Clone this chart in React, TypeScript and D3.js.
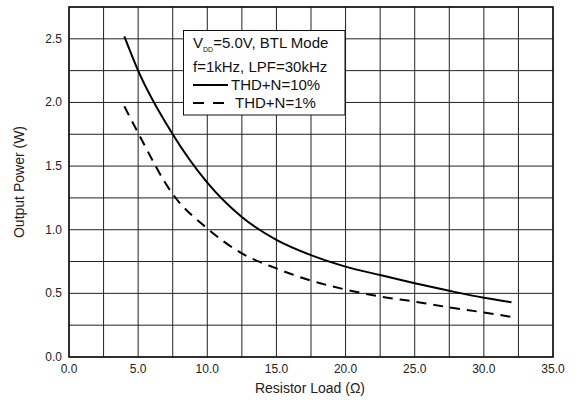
import React from "react";
import * as d3 from "d3";

const loads = [4, 5, 7.5, 10, 12.5, 15, 17.5, 20, 22.5, 25, 27.5, 30, 32];
const thd10 = [2.52, 2.25, 1.75, 1.37, 1.1, 0.92, 0.8, 0.71, 0.644, 0.58, 0.52, 0.465, 0.43];
const thd1 = [1.97, 1.76, 1.28, 1.01, 0.814, 0.696, 0.6, 0.53, 0.475, 0.435, 0.39, 0.35, 0.315];
const xTicks = [0, 5, 10, 15, 20, 25, 30, 35];
const yTicks = [0, 0.5, 1.0, 1.5, 2.0, 2.5];
const xGrid = d3.range(0, 35.01, 2.5);
const yGrid = d3.range(0, 2.751, 0.25);

const W = 578, H = 400;
const M = { left: 69, top: 7, right: 553, bottom: 357 };
const FONT = "Liberation Sans, Arial, sans-serif";

export default function App() {
  const x = d3.scaleLinear().domain([0, 35]).range([M.left, M.right]);
  const y = d3.scaleLinear().domain([0, 2.75]).range([M.bottom, M.top]);
  const line = d3
    .line<number>()
    .x((_, i) => x(loads[i]))
    .y((d) => y(d))
    .curve(d3.curveMonotoneX);

  return (
    <svg width={W} height={H} style={{ position: "absolute", left: 0, top: 0 }}>
      <rect x={0} y={0} width={W} height={H} fill="#fff" />
      {xGrid.map((v) => (
        <line key={"xg" + v} x1={x(v)} x2={x(v)} y1={M.top} y2={M.bottom} stroke="#222" strokeWidth={1} />
      ))}
      {yGrid.map((v) => (
        <line key={"yg" + v} x1={M.left} x2={M.right} y1={y(v)} y2={y(v)} stroke="#222" strokeWidth={1} />
      ))}
      <rect x={M.left} y={M.top} width={M.right - M.left} height={M.bottom - M.top} fill="none" stroke="#111" strokeWidth={1.5} />
      {xTicks.map((v) => (
        <text key={"xt" + v} x={x(v)} y={373} textAnchor="middle" fontFamily={FONT} fontSize={12} fill="#222">
          {v.toFixed(1)}
        </text>
      ))}
      {yTicks.map((v) => (
        <text key={"yt" + v} x={62} y={y(v) + 4} textAnchor="end" fontFamily={FONT} fontSize={12} fill="#222">
          {v.toFixed(1)}
        </text>
      ))}
      <text x={310} y={393} textAnchor="middle" fontFamily={FONT} fontSize={14} fill="#222">
        Resistor Load (Ω)
      </text>
      <text transform={`translate(24,${(M.top + M.bottom) / 2}) rotate(-90)`} textAnchor="middle" fontFamily={FONT} fontSize={14} fill="#222">
        Output Power (W)
      </text>
      <path d={line(thd10) || ""} fill="none" stroke="#000" strokeWidth={2} />
      <path d={line(thd1) || ""} fill="none" stroke="#000" strokeWidth={2} strokeDasharray="10,7" />
      <g>
        <rect x={183.5} y={30.5} width={161.5} height={84.5} fill="#fff" stroke="#111" strokeWidth={1} />
        <text x={193} y={48} fontFamily={FONT} fontSize={15} fill="#111">
          V<tspan fontSize={7} dy={4}>DD</tspan>
          <tspan dy={-4}>=5.0V, BTL Mode</tspan>
        </text>
        <text x={193} y={72} fontFamily={FONT} fontSize={15} fill="#111">
          f=1kHz, LPF=30kHz
        </text>
        <line x1={193} x2={228} y1={85} y2={85} stroke="#000" strokeWidth={2} />
        <text x={231} y={90} fontFamily={FONT} fontSize={15} fill="#111">
          THD+N=10%
        </text>
        <line x1={193} x2={224} y1={103} y2={103} stroke="#000" strokeWidth={2} strokeDasharray="11,9" />
        <text x={235} y={108} fontFamily={FONT} fontSize={15} fill="#111">
          THD+N=1%
        </text>
      </g>
    </svg>
  );
}
